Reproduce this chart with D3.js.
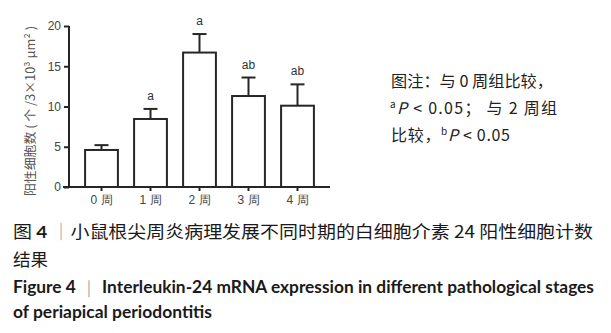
<!DOCTYPE html>
<html>
<head>
<meta charset="utf-8">
<script src="https://cdn.jsdelivr.net/npm/d3@7"></script>
<style>
  body { margin: 0; background: #fff; }
  svg { display: block; }
</style>
</head>
<body>
<script>
'use strict'

var categories = ['0 周', '1 周', '2 周', '3 周', '4 周']
var means = [4.6, 8.45, 16.7, 11.3, 10.1]
var sds = [0.6, 1.25, 2.3, 2.3, 2.65]
var marks = ['', 'a', 'a', 'ab', 'ab']
var yTicks = [0, 5, 10, 15, 20]

var W = 611, H = 333
  , svg = d3.select('body').append('svg').attr('width', W).attr('height', H)
  , axisCol = '#262626', tickFont = 'Liberation Sans, Arial, sans-serif'

svg.append('rect').attr('width', W).attr('height', H).attr('fill', '#fff')

var x = d3.scaleBand().domain(categories).range([77, 322]).paddingInner(0.33).paddingOuter(0.165)
  , y = d3.scaleLinear().domain([0, 20]).range([187, 26])

// bars
var g = svg.append('g')
g.selectAll('rect.bar').data(means).enter().append('rect')
  .attr('class', 'bar')
  .attr('x', function(d, i){ return x(categories[i]) })
  .attr('y', function(d){ return y(d) })
  .attr('width', x.bandwidth())
  .attr('height', function(d){ return y(0) - y(d) })
  .attr('fill', '#fff').attr('stroke', axisCol).attr('stroke-width', 2)

// error bars (upper only)
var cx = function(i){ return x(categories[i]) + x.bandwidth() / 2 }
g.selectAll('line.err').data(means).enter().append('line')
  .attr('x1', function(d, i){ return cx(i) }).attr('x2', function(d, i){ return cx(i) })
  .attr('y1', function(d){ return y(d) })
  .attr('y2', function(d, i){ return y(d + sds[i]) })
  .attr('stroke', axisCol).attr('stroke-width', 2)
g.selectAll('line.cap').data(means).enter().append('line')
  .attr('x1', function(d, i){ return cx(i) - 7 }).attr('x2', function(d, i){ return cx(i) + 7 })
  .attr('y1', function(d, i){ return y(d + sds[i]) })
  .attr('y2', function(d, i){ return y(d + sds[i]) })
  .attr('stroke', axisCol).attr('stroke-width', 2)

// significance letters
g.selectAll('text.mark').data(marks).enter().append('text')
  .attr('x', function(d, i){ return cx(i) })
  .attr('y', function(d, i){ return y(means[i] + sds[i]) - 9 })
  .attr('text-anchor', 'middle')
  .style('font', '12px ' + tickFont).attr('fill', '#333')
  .text(function(d){ return d })

// y axis
var ya = svg.append('g').attr('transform', 'translate(69,0)')
  .call(d3.axisLeft(y).tickValues(yTicks).tickSize(5).tickPadding(3))
ya.select('.domain').attr('stroke', axisCol).attr('stroke-width', 2).attr('d', 'M0,' + y(20) + 'V' + y(0))
ya.selectAll('.tick line').attr('stroke', axisCol).attr('stroke-width', 2)
ya.selectAll('.tick text').style('font', '12px ' + tickFont).attr('fill', '#444')

// x axis
var xa = svg.append('g').attr('transform', 'translate(0,187)')
  .call(d3.axisBottom(x).tickSize(4).tickPadding(4))
xa.select('.domain').attr('stroke', axisCol).attr('stroke-width', 2).attr('d', 'M63,0H330')
xa.selectAll('.tick line').attr('stroke', axisCol).attr('stroke-width', 2)
xa.selectAll('.tick text').style('font', '12px ' + tickFont).attr('fill', '#444')

// y label
svg.append('text')
  .attr('transform', 'translate(35,111) rotate(-90)')
  .attr('text-anchor', 'middle')
  .attr('textLength', 170).attr('lengthAdjust', 'spacingAndGlyphs')
  .style('font', '12.5px "Noto Sans CJK SC", sans-serif').attr('fill', '#555')
  .text('阳性细胞数 ( 个 /3×10³ μm² )')

// note at the right
var noteFont = '16px "Noto Sans CJK SC", sans-serif'
var note = svg.append('g').style('font', noteFont).attr('fill', '#222')
note.append('text').attr('x', 391).attr('y', 87)
  .attr('textLength', 162).attr('lengthAdjust', 'spacingAndGlyphs')
  .text('图注：与 0 周组比较，')
var l2 = note.append('text').attr('x', 390).attr('y', 114)
  .attr('textLength', 167).attr('lengthAdjust', 'spacing')
l2.append('tspan').attr('font-size', 10).attr('dy', -6).text('a')
l2.append('tspan').attr('font-style', 'italic').attr('dy', 6).text('P')
l2.append('tspan').text(' < 0.05；  与 2  周组')
var l3 = note.append('text').attr('x', 391).attr('y', 141)
  .attr('textLength', 119).attr('lengthAdjust', 'spacing')
l3.append('tspan').text('比较，')
l3.append('tspan').attr('font-size', 10).attr('dy', -6).text('b')
l3.append('tspan').attr('font-style', 'italic').attr('dy', 6).text('P')
l3.append('tspan').text(' < 0.05')

// caption
var cap = svg.append('g').attr('fill', '#1a1a1a')
var c1 = cap.append('text').attr('x', 13).attr('y', 238)
  .attr('textLength', 580).attr('lengthAdjust', 'spacingAndGlyphs')
  .style('font', '17.5px "Noto Sans CJK SC", sans-serif')
c1.append('tspan').text('图 ')
c1.append('tspan').attr('font-weight', 'bold').attr('font-family', 'Lato, sans-serif').text('4')
c1.append('tspan').text(' ')
c1.append('tspan').attr('fill', '#999').text('｜')
c1.append('tspan').text('小鼠根尖周炎病理发展不同时期的白细胞介素 24 阳性细胞计数')
cap.append('text').attr('x', 13).attr('y', 266)
  .style('font', '17.5px "Noto Sans CJK SC", sans-serif').text('结果')
var c3 = cap.append('text').attr('x', 13).attr('y', 293)
  .attr('textLength', 581).attr('lengthAdjust', 'spacingAndGlyphs')
  .style('font', 'bold 16.5px Lato, "Open Sans", sans-serif')
c3.append('tspan').text('Figure 4  ')
c3.append('tspan').attr('fill', '#aaa').attr('font-weight', 'normal').text('｜')
c3.append('tspan').text('  Interleukin-24 mRNA expression in different pathological stages')
cap.append('text').attr('x', 13).attr('y', 318)
  .attr('textLength', 199).attr('lengthAdjust', 'spacingAndGlyphs')
  .style('font', 'bold 16.5px Lato, "Open Sans", sans-serif')
  .text('of periapical periodontitis')
</script>
</body>
</html>
